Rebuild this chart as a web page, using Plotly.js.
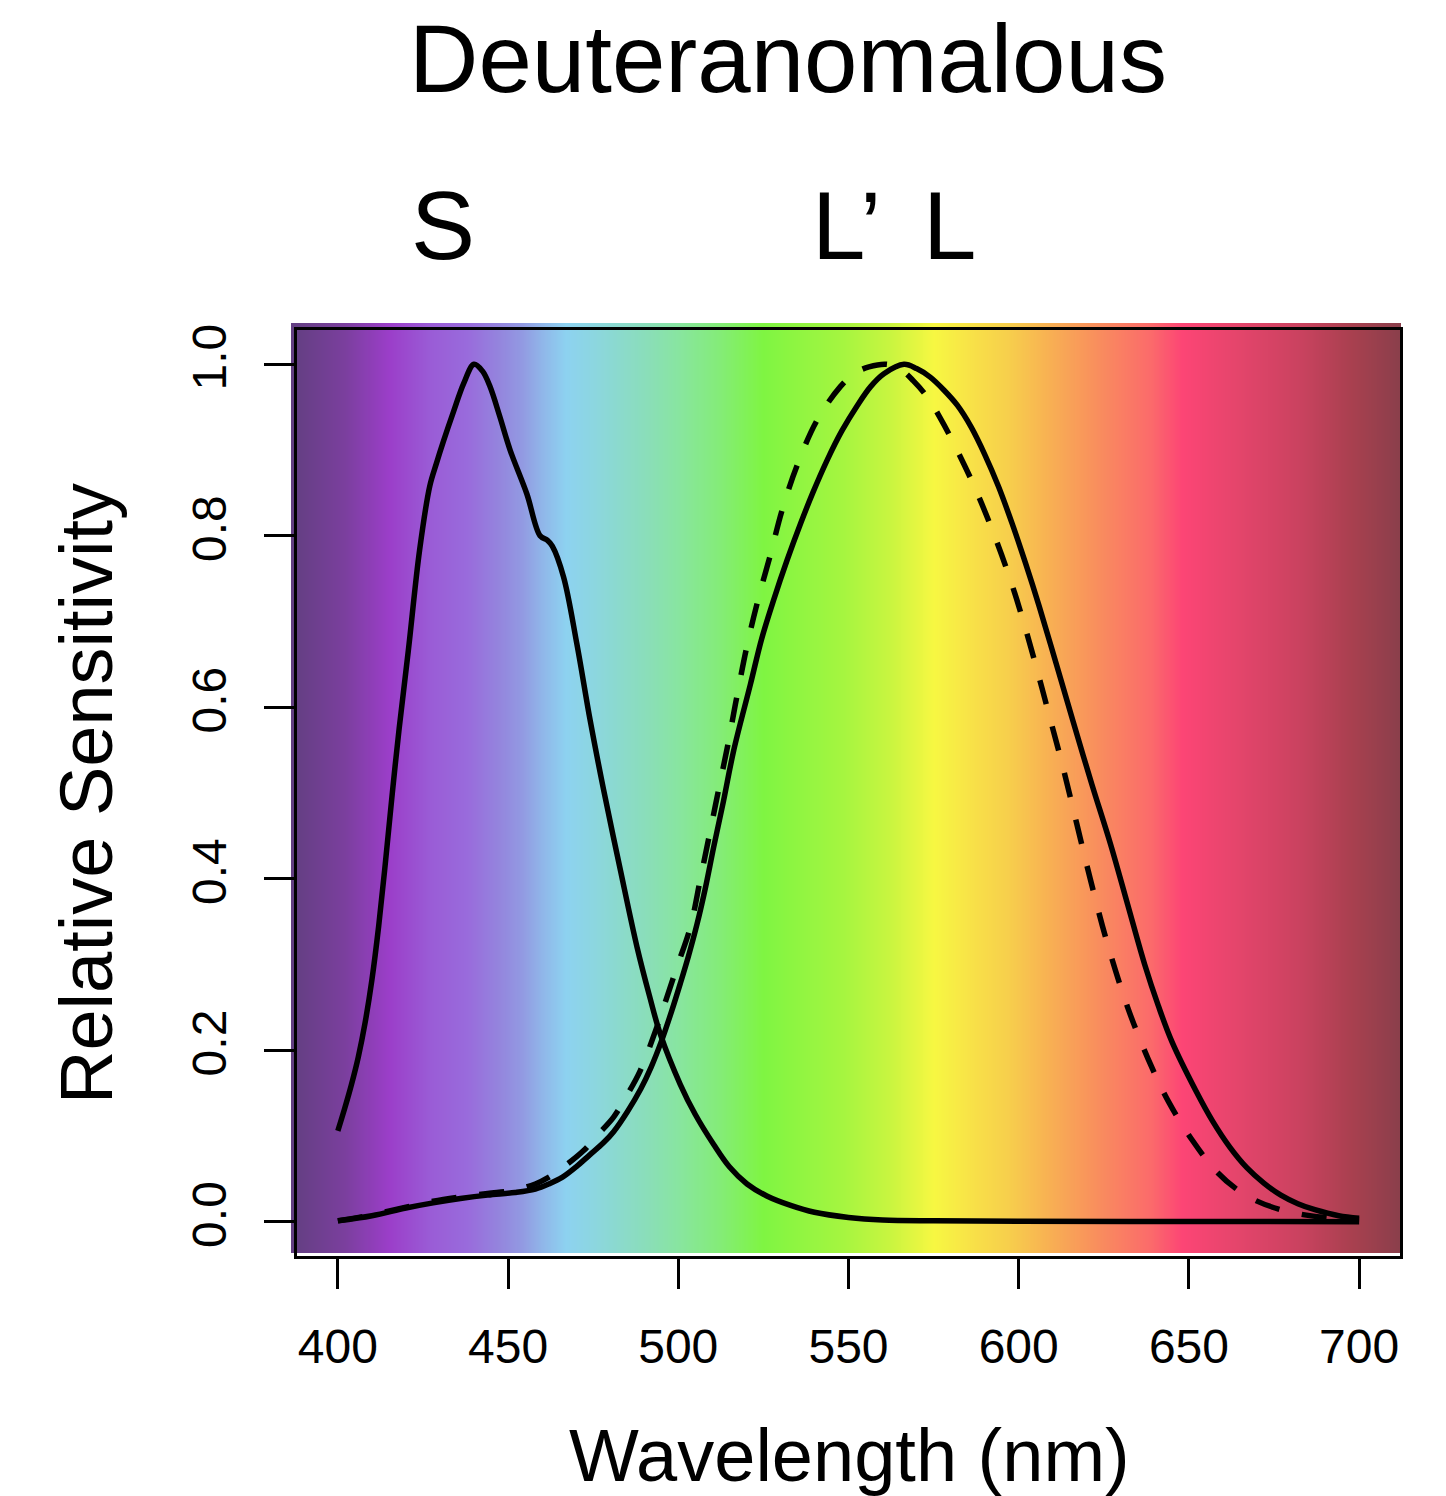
<!DOCTYPE html>
<html>
<head>
<meta charset="utf-8">
<script src="https://cdn.plot.ly/plotly-3.0.1.min.js"></script>
<style>html,body{margin:0;padding:0;background:#fff;}</style>
</head>
<body>
<div id="chart" style="width:1446px;height:1496px;"></div>
<script>
// ---- Data ----
// S cone (solid)
const sWl  = [400, 402, 404, 406, 408, 410, 412, 414, 416, 418, 420.7, 424, 427, 429, 431, 434, 437, 440, 442.5, 444.7, 447.5, 450.6, 455.5, 459.4, 461.5, 463, 466.3, 470.2, 474.1, 478, 483, 487.9, 491.5, 494.7, 500.6, 505, 510.4, 515, 520.2, 526, 533, 540, 550, 560, 575, 600, 650, 700];
const sVal = [0.106, 0.132, 0.16, 0.192, 0.232, 0.282, 0.345, 0.42, 0.5, 0.575, 0.666, 0.783, 0.858, 0.885, 0.91, 0.945, 0.978, 1.0, 0.992, 0.974, 0.94, 0.90, 0.849, 0.80, 0.795, 0.788, 0.752, 0.674, 0.585, 0.505, 0.41, 0.32, 0.264, 0.219, 0.16, 0.125, 0.09, 0.064, 0.044, 0.030, 0.019, 0.011, 0.005, 0.002, 0.001, 0.0005, 0.0002, 0.0];

// L cone (solid)
const lWl  = [400, 410, 420, 428, 436, 444, 452, 458, 462, 466, 470, 474, 478, 481, 485, 489, 492, 495, 498, 500.6, 503, 505.5, 508, 510.4, 513.3, 516.3, 521.2, 524.5, 528, 532, 535.9, 539.5, 543.7, 548, 552.6, 556.5, 560.4, 566.3, 570, 574, 578, 582, 586, 590, 594, 598, 602, 606, 611, 616, 621.5, 627, 632, 637, 641, 645, 652, 657, 662, 667, 672, 677, 682, 687, 694, 700];
const lVal = [0.001, 0.007, 0.016, 0.022, 0.027, 0.031, 0.034, 0.038, 0.044, 0.052, 0.064, 0.078, 0.092, 0.105, 0.128, 0.155, 0.18, 0.21, 0.245, 0.278, 0.31, 0.347, 0.39, 0.437, 0.491, 0.55, 0.627, 0.68, 0.725, 0.772, 0.814, 0.85, 0.888, 0.922, 0.952, 0.974, 0.989, 1.0, 0.995, 0.985, 0.970, 0.952, 0.927, 0.895, 0.858, 0.815, 0.768, 0.718, 0.651, 0.583, 0.51, 0.44, 0.37, 0.30, 0.252, 0.21, 0.153, 0.117, 0.087, 0.063, 0.045, 0.031, 0.021, 0.014, 0.007, 0.004];

// L' anomalous cone (dashed)
const lpWl  = [400, 410, 420, 428, 436, 444, 452, 458, 462, 467, 472.2, 476, 481, 485, 488.8, 493.7, 496.5, 499.6, 503.5, 506.5, 509.4, 511.9, 514.5, 516.8, 520.2, 523.6, 527, 530.5, 534.9, 540.8, 547.6, 551.6, 556, 561.4, 565.3, 569, 573.1, 577, 581, 586.9, 592.7, 597.6, 601.6, 605.5, 609, 613, 617, 621, 626, 632, 638, 644, 651, 658, 664, 670, 677, 684, 692, 700];
const lpVal = [0.001, 0.008, 0.017, 0.024, 0.029, 0.033, 0.037, 0.044, 0.052, 0.066, 0.083, 0.10, 0.122, 0.148, 0.176, 0.227, 0.26, 0.297, 0.343, 0.40, 0.456, 0.505, 0.555, 0.604, 0.672, 0.728, 0.777, 0.83, 0.882, 0.935, 0.974, 0.989, 0.997, 1.0, 0.994, 0.981, 0.962, 0.937, 0.907, 0.858, 0.802, 0.748, 0.697, 0.642, 0.59, 0.53, 0.465, 0.40, 0.325, 0.25, 0.19, 0.14, 0.095, 0.059, 0.038, 0.024, 0.014, 0.008, 0.004, 0.002];

// Spectrum background colour stops (wavelength -> colour)
const gradWl     = [380, 388, 402, 415, 427, 438, 447, 454, 460, 467, 475, 483, 491, 500, 512, 525, 548, 562, 575, 587, 597, 609, 624, 639, 648, 663, 683, 698, 712, 720];
const gradColors = ['#5a3f7a', '#653f84', '#7b3f9e', '#9b3ec9', '#9a5cd6', '#996bdc', '#9484dd', '#929ae2', '#90b6e9', '#8dd2f0', '#8cd6e0', '#8bdacc', '#8adeb8', '#88e5a0', '#84ec78', '#7ff542', '#a5f540', '#c8f540', '#f7f742', '#f8e048', '#f7ce4c', '#f8b053', '#f98c5e', '#fb6a6b', '#fc4575', '#e6456c', '#c9425f', '#a8404f', '#8a3f4b', '#853e48'];

// Tick labels
const xTicks = [400, 450, 500, 550, 600, 650, 700];
const yTicks = [0, 0.2, 0.4, 0.6, 0.8, 1.0];
const yTickText = ['0.0', '0.2', '0.4', '0.6', '0.8', '1.0'];

// Curve labels
const curveLabels = ['S', 'L\u2019', 'L'];
const curveLabelX = [430.9, 549.4, 579.7];

// ---- Build ----
const FONT = 'Liberation Sans, Arial, Helvetica, sans-serif';
const gMin = gradWl[0], gMax = gradWl[gradWl.length - 1];
const colorscale = gradWl.map((w, i) => [(w - gMin) / (gMax - gMin), gradColors[i]]);

const bg = {
  type: 'heatmap', x: gradWl, y: [0, 1], z: [gradWl, gradWl],
  colorscale: colorscale, zmin: gMin, zmax: gMax, zsmooth: 'best',
  showscale: false, hoverinfo: 'skip', xaxis: 'x', yaxis: 'y'
};
const LW = 5.5;
const lineBase = {type: 'scatter', mode: 'lines', xaxis: 'x2', yaxis: 'y2', hoverinfo: 'x+y'};
const traces = [
  bg,
  Object.assign({}, lineBase, {name: 'S', x: sWl, y: sVal, line: {color: '#000', width: LW, shape: 'spline', smoothing: 1}}),
  Object.assign({}, lineBase, {name: 'L\u2019', x: lpWl, y: lpVal, line: {color: '#000', width: LW, dash: '25px,23px', shape: 'spline', smoothing: 1}}),
  Object.assign({}, lineBase, {name: 'L', x: lWl, y: lVal, line: {color: '#000', width: LW, shape: 'spline', smoothing: 1}})
];

// geometry (pixels)
const L = 291, R = 1401, T = 323, B = 1256; // paper area = background image extent
const W = R - L, H = B - T;
const boxL = 297, boxR = 1400, boxT = 330;
const xLo = 388, xHi = 712;
const pxPerNm = (boxR - boxL) / (xHi - xLo);

const annotations = curveLabels.map((t, i) => ({
  text: t, x: curveLabelX[i], xref: 'x2', y: (B - 225) / H, yref: 'paper',
  xanchor: 'center', yanchor: 'middle', showarrow: false,
  font: {family: FONT, size: 96, color: '#000'}
}));
annotations.push({
  text: 'Wavelength (nm)', x: (849 - L) / W, xref: 'paper', y: (B - 1455) / H, yref: 'paper',
  xanchor: 'center', yanchor: 'middle', showarrow: false,
  font: {family: FONT, size: 74, color: '#000'}
});
annotations.push({
  text: 'Relative Sensitivity', x: (86 - L) / W, xref: 'paper', y: (B - 794) / H, yref: 'paper',
  xanchor: 'center', yanchor: 'middle', showarrow: false, textangle: -90,
  font: {family: FONT, size: 74, color: '#000'}
});

const layout = {
  width: 1446, height: 1496,
  margin: {l: L, r: 1446 - R, t: T, b: 1496 - B, pad: 0},
  paper_bgcolor: '#ffffff', plot_bgcolor: 'rgba(0,0,0,0)',
  showlegend: false,
  font: {family: FONT, color: '#000'},
  title: {text: 'Deuteranomalous', x: 788 / 1446, xref: 'container', xanchor: 'center',
          y: 1 - 58 / 1496, yref: 'container', yanchor: 'middle',
          font: {family: FONT, size: 96, color: '#000'}},
  xaxis: {domain: [0, 1], range: [xLo - (boxL - L) / pxPerNm, xHi + (R - boxR) / pxPerNm],
          visible: false, fixedrange: true},
  yaxis: {domain: [(B - 1253) / H, 1], range: [0, 1], visible: false, fixedrange: true},
  xaxis2: {domain: [(boxL - L) / W, (boxR - L) / W], anchor: 'y2', range: [xLo, xHi],
           tickmode: 'array', tickvals: xTicks, ticktext: xTicks.map(String),
           ticks: 'outside', ticklen: 30, tickwidth: 3, tickcolor: '#000',
           ticklabelstandoff: 16,
           showline: true, mirror: true, linewidth: 3, linecolor: '#000',
           showgrid: false, zeroline: false, fixedrange: true,
           tickfont: {family: FONT, size: 48, color: '#000'},
           title: {text: ''}},
  yaxis2: {domain: [0, (B - boxT) / H], anchor: 'x2', range: [-0.04, 1.04],
           tickmode: 'array', tickvals: yTicks, ticktext: yTickText, tickangle: -90,
           ticks: 'outside', ticklen: 30, tickwidth: 3, tickcolor: '#000',
           ticklabelstandoff: 19,
           showline: true, mirror: true, linewidth: 3, linecolor: '#000',
           showgrid: false, zeroline: false, fixedrange: true,
           tickfont: {family: FONT, size: 48, color: '#000'},
           title: {text: ''}},
  annotations: annotations
};

Plotly.newPlot('chart', traces, layout, {displayModeBar: false, staticPlot: true});
</script>
</body>
</html>
